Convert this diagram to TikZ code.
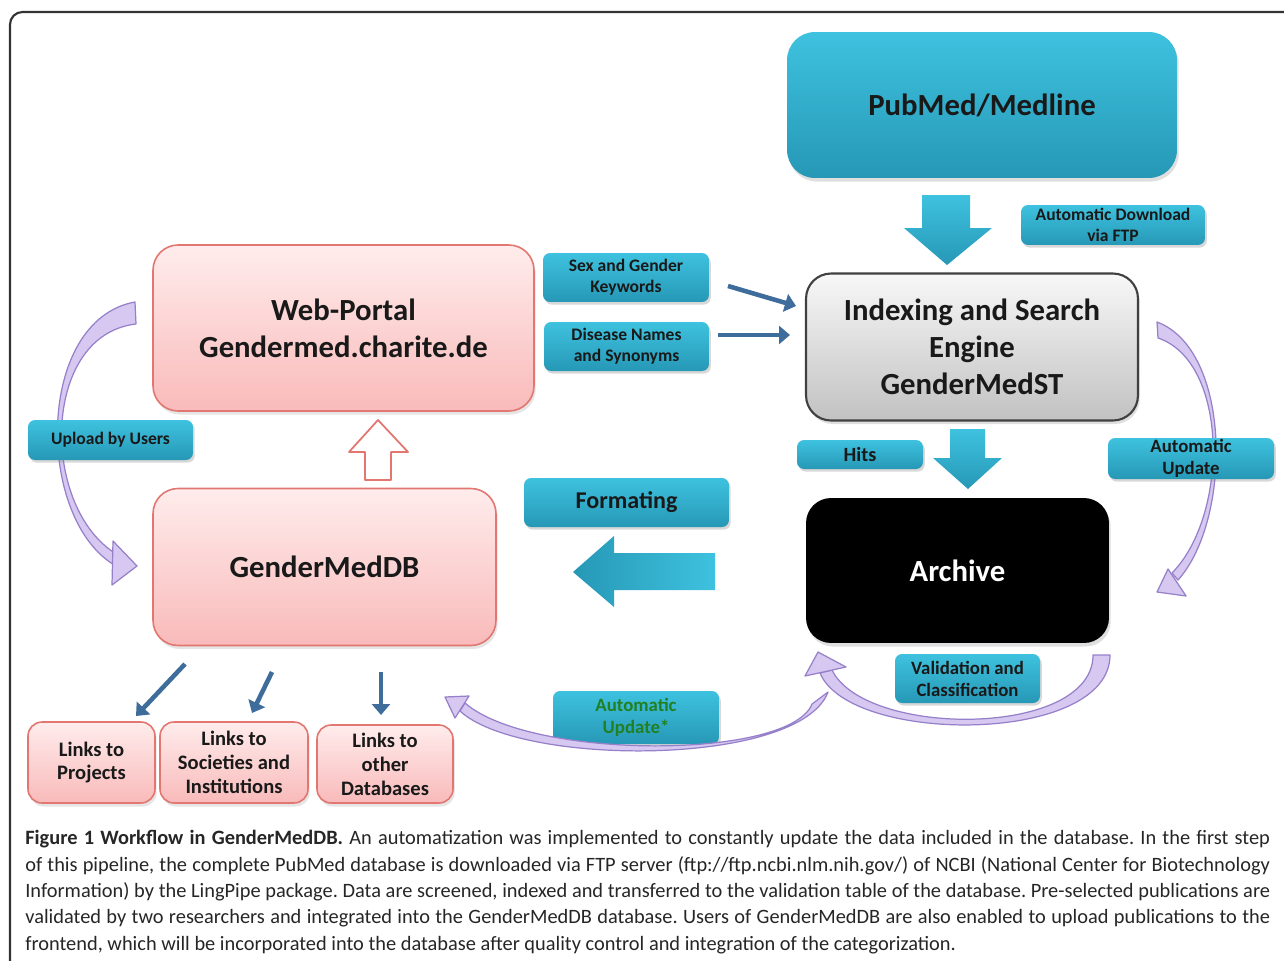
\documentclass[tikz,border=0pt]{standalone}
\usepackage{fontspec}
\setmainfont{Carlito}
\usepackage{tikz}
\usetikzlibrary{arrows.meta,shadows}
\frenchspacing
\definecolor{tealtop}{RGB}{62,194,223}
\definecolor{tealbot}{RGB}{38,152,182}
\definecolor{pinktop}{RGB}{255,236,236}
\definecolor{pinkbot}{RGB}{249,186,186}
\definecolor{pinkedge}{RGB}{226,118,112}
\definecolor{steel}{RGB}{62,108,155}
\definecolor{lilac}{RGB}{214,200,240}
\definecolor{lilacedge}{RGB}{150,128,202}
\definecolor{updgreen}{RGB}{34,128,34}
\tikzset{
  bigbox/.style={rounded corners=0.5cm, align=center, inner sep=0pt,
    font=\fontsize{17.5}{21}\selectfont\bfseries, text=black!90},
  tealbig/.style={bigbox, top color=tealtop, bottom color=tealbot,
    drop shadow={shadow xshift=1pt, shadow yshift=-2pt, opacity=0.25}},
  pinkbig/.style={bigbox, draw=pinkedge, line width=0.9pt, top color=pinktop, bottom color=pinkbot,
    drop shadow={shadow xshift=1pt, shadow yshift=-2pt, opacity=0.2}},
  greybig/.style={bigbox, draw=black!75, line width=1.2pt, top color=black!3, bottom color=black!24,
    drop shadow={shadow xshift=1pt, shadow yshift=-2pt, opacity=0.25}},
  blackbig/.style={bigbox, fill=black, text=white,
    drop shadow={shadow xshift=1pt, shadow yshift=-2pt, opacity=0.25}},
  tag/.style={rounded corners=0.14cm, align=center, inner sep=0pt,
    top color=tealtop, bottom color=tealbot,
    font=\fontsize{10}{12}\selectfont\bfseries, text=black!90,
    drop shadow={shadow xshift=1pt, shadow yshift=-1.5pt, opacity=0.3}},
  linkbox/.style={rounded corners=0.28cm, align=center, inner sep=0pt,
    draw=pinkedge, line width=0.9pt, top color=pinktop, bottom color=pinkbot,
    font=\fontsize{11.7}{13.6}\selectfont\bfseries, text=black!90,
    drop shadow={shadow xshift=1pt, shadow yshift=-2pt, opacity=0.2}},
  thinarrow/.style={steel, line width=2.6pt, -{Triangle[length=0.22cm,width=0.36cm]}},
  blockarrow/.style={top color=tealtop, bottom color=tealbot},
  curved/.style={draw=lilacedge, fill=lilac, line width=0.7pt, line join=round}
}

\begin{document}
\begin{tikzpicture}[x=0.02cm,y=-0.02cm]
  \useasboundingbox (0,0) rectangle (1284,960);
  \fill[white] (0,0) rectangle (1284,960);
  \begin{scope}
    \clip (0,0) rectangle (1284,960);
    \draw[black!80, line width=1.2pt, rounded corners=0.25cm] (10,12) rectangle (1330,1010);
  \end{scope}

  % loops drawn behind the labels
  \filldraw[curved] (135,302) .. controls (35,320) and (35,520) .. (116,566)
     -- (118,555) .. controls (40,510) and (40,335) .. (136,324) -- cycle;
  \filldraw[curved] (113,541) -- (137,566) -- (112,585) -- cycle;
  \filldraw[curved] (1157,322) .. controls (1232,350) and (1232,520) .. (1178,580)
     -- (1172,573) .. controls (1229,515) and (1229,362) .. (1158,338) -- cycle;
  \filldraw[curved] (1168,569) -- (1157,592) -- (1186,596) -- cycle;

  \node[tealbig, minimum width=7.8cm, minimum height=2.92cm, rounded corners=0.56cm] (pubmed) at (982,105) {PubMed/Medline};
  \node[tag, minimum width=3.68cm, minimum height=0.8cm] (download) at (1113,225) {Automatic Download\\via FTP};
  \node[greybig, minimum width=6.64cm, minimum height=2.94cm] (search) at (972,347) {Indexing and Search\\Engine\\GenderMedST};
  \node[pinkbig, minimum width=7.62cm, minimum height=3.32cm] (portal) at (343.5,328) {Web-Portal\\Gendermed.charite.de};
  \node[tag, minimum width=3.32cm, minimum height=0.98cm] (sexkw) at (626,277.5) {Sex and Gender\\Keywords};
  \node[tag, minimum width=3.3cm, minimum height=0.98cm] (disease) at (626.5,346.5) {Disease Names\\and Synonyms};
  \node[pinkbig, minimum width=6.86cm, minimum height=3.14cm] (gmdb) at (324.5,567) {GenderMedDB};
  \node[tag, minimum width=4.1cm, minimum height=0.98cm, font=\fontsize{13.7}{16}\selectfont\bfseries] (formating) at (626.5,502.5) {Formating};
  \node[tag, minimum width=2.52cm, minimum height=0.58cm, font=\fontsize{11.5}{14}\selectfont\bfseries] (hits) at (860,454.5) {Hits};
  \node[blackbig, minimum width=6.06cm, minimum height=2.9cm] (archive) at (957.5,570.5) {Archive};
  \node[tag, minimum width=3.32cm, minimum height=0.82cm, font=\fontsize{10.7}{12.5}\selectfont\bfseries] (autoupd) at (1191,458.5) {Automatic\\Update};
  \node[tag, minimum width=2.9cm, minimum height=0.98cm, font=\fontsize{10.7}{12.5}\selectfont\bfseries] (valid) at (967.5,678.5) {Validation and\\Classification};
  \node[tag, minimum width=3.32cm, minimum height=1.06cm, font=\fontsize{10.7}{12.5}\selectfont\bfseries, text=updgreen] (autoupddb) at (636,717.5) {Automatic\\Update*};
  \node[tag, minimum width=3.3cm, minimum height=0.8cm] (upload) at (110.5,440) {Upload by Users};
  \node[linkbox, minimum width=2.54cm, minimum height=1.62cm] (projects) at (91.5,762.5) {Links to\\Projects};
  \node[linkbox, minimum width=2.96cm, minimum height=1.62cm] (societies) at (234,762.5) {Links to\\Societies and\\Institutions};
  \node[linkbox, minimum width=2.72cm, minimum height=1.56cm] (otherdb) at (385,764) {Links to\\other\\Databases};

  % block arrows
  \shade[blockarrow] (922,195) -- (970,195) -- (970,228) -- (992,228) -- (947,265) -- (904,228) -- (922,228) -- cycle;
  \shade[blockarrow] (950,429) -- (985,429) -- (985,458) -- (1002,458) -- (968,489) -- (933,458) -- (950,458) -- cycle;
  \shade[left color=tealbot, right color=tealtop] (715,553) -- (715,590) -- (614,590) -- (614,607) -- (573,572) -- (614,536) -- (614,553) -- cycle;
  \draw[pinkedge, fill=white, line width=1pt, line join=round] (378,420) -- (408,452) -- (391,452) -- (391,480) -- (365,480) -- (365,452) -- (349,452) -- cycle;

  \coordinate (kwstart) at (728,286);
  \coordinate (kwend) at (796,306);
  \coordinate (disstart) at (718,335);
  \coordinate (disend) at (790,335);
  \coordinate (pstart) at (185,664);
  \coordinate (pend) at (136,716);
  \coordinate (sstart) at (272,672);
  \coordinate (send) at (252,713);
  \coordinate (ostart) at (381,672);
  \coordinate (oend) at (381,715);
  \draw[thinarrow] (kwstart) -- (kwend);
  \draw[thinarrow] (disstart) -- (disend);
  \draw[thinarrow] (pstart) -- (pend);
  \draw[thinarrow] (sstart) -- (send);
  \draw[thinarrow] (ostart) -- (oend);

  % validation and update loops
  \filldraw[curved] (1110,655) .. controls (1110,745) and (850,745) .. (820,673)
     -- (832,670) .. controls (865,738) and (1093,738) .. (1093,655) -- cycle;
  \filldraw[curved] (805,676) -- (818,652) -- (846,667) -- cycle;
  \filldraw[curved] (828,692) .. controls (800,767) and (520,767) .. (460,711)
     -- (465,703) .. controls (530,760) and (790,760) .. (812,704) -- cycle;
  \filldraw[curved] (455,718) -- (445,697) -- (469,696) -- cycle;

  \node[anchor=north west, text width=24.9cm, align=justify, inner sep=0pt,
        font=\fontsize{11.6}{15}\selectfont, text=black!85] (caption) at (25,830)
  {\textbf{Figure 1 Workflow in GenderMedDB.} An automatization was implemented to constantly update the data included in the database. In the first step\linebreak
  of this pipeline, the complete PubMed database is downloaded via FTP server (ftp://ftp.ncbi.nlm.nih.gov/) of NCBI (National Center for Biotechnology\linebreak
  Information) by the LingPipe package. Data are screened, indexed and transferred to the validation table of the database. Pre-selected publications are\linebreak
  validated by two researchers and integrated into the GenderMedDB database. Users of GenderMedDB are also enabled to upload publications to the\linebreak
  frontend, which will be incorporated into the database after quality control and integration of the categorization.};
\end{tikzpicture}
\end{document}
